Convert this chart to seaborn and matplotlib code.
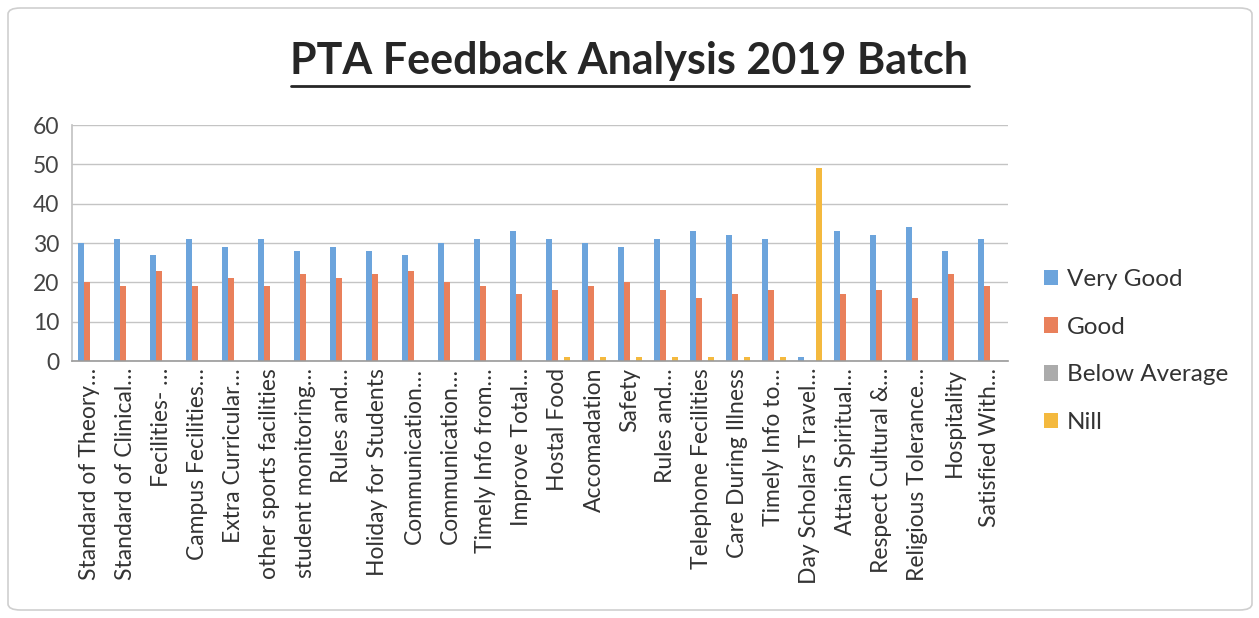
import matplotlib
matplotlib.use("Agg")
import matplotlib.pyplot as plt
from matplotlib.patches import FancyBboxPatch
import seaborn as sns
import pandas as pd

# Kategorien (gekürzt wie im Original)
categories = [
    "Standard of Theory…", "Standard of Clinical…", "Fecilities- …",
    "Campus Fecilities…", "Extra Curricular…", "other sports facilities",
    "student monitoring…", "Rules and…", "Holiday for Students",
    "Communication…", "Communication…", "Timely Info from…",
    "Improve Total…", "Hostal Food", "Accomadation", "Safety",
    "Rules and…", "Telephone Fecilities", "Care During Illness",
    "Timely Info to…", "Day Scholars Travel…", "Attain Spiritual…",
    "Respect Cultural &…", "Religious Tolerance…", "Hospitality",
    "Satisfied With…",
]

very_good = [30, 31, 27, 31, 29, 31, 28, 29, 28, 27, 30, 31, 33,
             31, 30, 29, 31, 33, 32, 31, 1, 33, 32, 34, 28, 31]
good = [20, 19, 23, 19, 21, 19, 22, 21, 22, 23, 20, 19, 17,
        18, 19, 20, 18, 16, 17, 18, 0, 17, 18, 16, 22, 19]
below_average = [0] * 26
nill = [0, 0, 0, 0, 0, 0, 0, 0, 0, 0, 0, 0, 0,
        1, 1, 1, 1, 1, 1, 1, 49, 0, 0, 0, 0, 0]

series = ["Very Good", "Good", "Below Average", "Nill"]
colors = ["#6CA4DC", "#E9805B", "#ABABAB", "#F4B93E"]

rows = []
for name, vals in zip(series, [very_good, good, below_average, nill]):
    for i, v in enumerate(vals):
        rows.append({"pos": i, "rating": name, "count": v})
df = pd.DataFrame(rows)

sns.set_theme(style="white")
plt.rcParams["font.family"] = ["Lato", "DejaVu Sans"]

W, H = 1259, 618
fig = plt.figure(figsize=(W / 100, H / 100), dpi=100)
ax = fig.add_axes([72 / W, 1 - 361 / H, 936 / W, 236 / H])

sns.barplot(data=df, x="pos", y="count", hue="rating", hue_order=series,
            palette=colors, saturation=1, width=0.64, linewidth=0,
            errorbar=None, order=list(range(len(categories))), ax=ax,
            legend=True)

ax.set_xlim(-0.5, len(categories) - 0.5)
ax.set_ylim(0, 60)
ax.set_yticks(range(0, 61, 10))
ax.yaxis.grid(True, color="#C4C4C4", linewidth=1)
ax.set_axisbelow(True)
ax.set_xlabel("")
ax.set_ylabel("")
ax.set_xticks(range(len(categories)))
ax.set_xticklabels(categories, rotation=90, fontsize=16.5, color="#333333")
ax.tick_params(axis="y", labelsize=16.5, labelcolor="#444444", length=0, pad=9)
ax.tick_params(axis="x", length=0, pad=5)
for s in ["top", "right"]:
    ax.spines[s].set_visible(False)
ax.spines["left"].set_color("#C4C4C4")
ax.spines["bottom"].set_color("#9A9A9A")
ax.spines["bottom"].set_linewidth(1.2)

handles, labels = ax.get_legend_handles_labels()
ax.get_legend().remove()
fig.legend(handles, labels, loc="center left",
           bbox_to_anchor=(1022 / W, 1 - 351 / H), frameon=False,
           fontsize=17.5, labelspacing=1.1, handlelength=0.6,
           handleheight=0.6, handletextpad=0.35, labelcolor="#333333")

title = fig.text(0.5, 1 - 61 / H, "PTA Feedback Analysis 2019 Batch",
                 ha="center", va="center", fontsize=31, fontweight="bold",
                 color="#262626")
fig.canvas.draw()
bb = title.get_window_extent().transformed(fig.transFigure.inverted())
fig.add_artist(plt.Line2D([bb.x0, bb.x1], [1 - 86 / H] * 2,
                          transform=fig.transFigure, color="#262626",
                          linewidth=2))

fig.add_artist(FancyBboxPatch((8 / W, 8 / H), 1244 / W, 602 / H,
                              boxstyle="round,pad=0,rounding_size=0.01",
                              transform=fig.transFigure, fill=False,
                              edgecolor="#CFCFCF", linewidth=1.2))

fig.savefig("out.png", dpi=100)
